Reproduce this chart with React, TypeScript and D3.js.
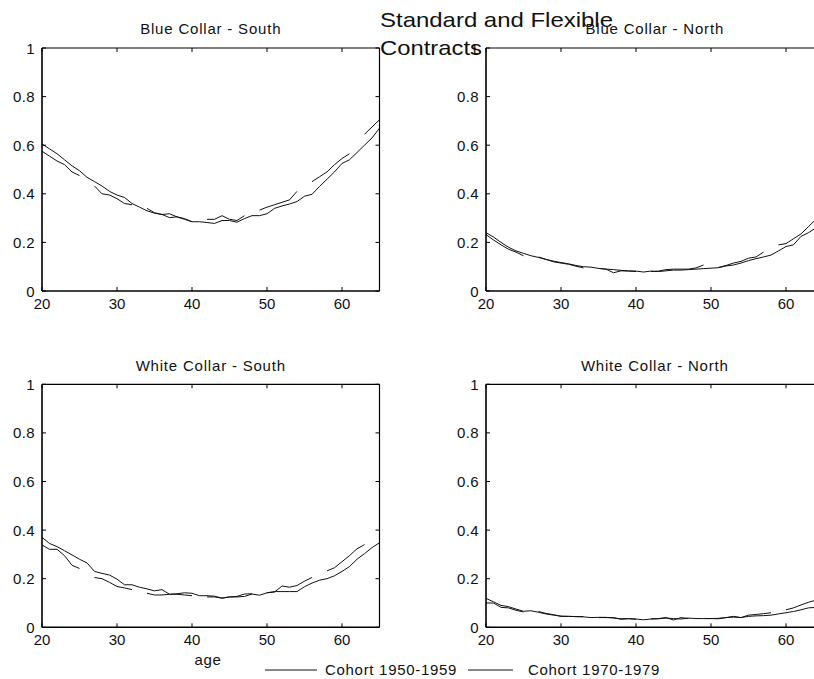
import React from "react";
import * as d3 from "d3";

const ages = [20,21,22,23,24,25,26,27,28,29,30,31,32,33,34,35,36,37,38,39,40,41,42,43,44,45,46,47,48,49,50,51,52,53,54,55,56,57,58,59,60,61,62,63,64,65];

const xTicks = [20, 30, 40, 50, 60];
const yTicks = [0, 0.2, 0.4, 0.6, 0.8, 1];
const yTickLabels = ["0", "0.2", "0.4", "0.6", "0.8", "1"];

const seriesNames = ["Cohort 1950-1959", "Cohort 1970-1979"];
const panelTitles = ["Blue Collar - South", "Blue Collar - North", "White Collar - South", "White Collar - North"];
const mainTitle = ["Standard and Flexible", "Contracts"];
const xLabel = "age";

type V = number | null;

const bcSouth1950: V[] = [0.605,0.585,0.565,0.54,0.515,0.495,0.468,0.45,0.432,0.41,
  0.395,0.385,0.36,0.345,0.33,0.32,0.315,0.318,0.305,0.298,
  0.285,0.285,0.282,0.278,0.29,0.29,0.283,0.298,0.31,0.31,
  0.318,0.34,0.35,0.358,0.368,0.39,0.398,0.43,0.46,0.49,
  0.525,0.54,0.57,0.6,0.63,0.67];
const bcSouth1970: V[] = [0.575,0.555,0.535,0.52,0.49,0.475,null,0.432,0.4,0.395,
  0.38,0.36,0.355,null,0.34,0.322,0.315,0.302,0.305,0.295,
  0.285,null,0.295,0.295,0.31,0.295,0.29,0.31,null,0.333,
  0.345,0.355,0.365,0.375,0.41,null,0.45,0.47,0.49,0.52,
  0.545,0.565,null,0.645,0.675,0.705];

const bcNorth1950: V[] = [0.24,0.222,0.2,0.18,0.165,0.155,0.145,0.138,0.13,0.123,
  0.117,0.112,0.105,0.1,0.098,0.093,0.09,0.088,0.085,0.083,
  0.082,0.078,0.082,0.08,0.083,0.086,0.086,0.088,0.09,0.092,
  0.094,0.096,0.103,0.107,0.115,0.125,0.133,0.14,0.148,0.165,
  0.183,0.19,0.225,0.24,0.26,0.28];
const bcNorth1970: V[] = [0.232,0.21,0.19,0.172,0.16,0.145,null,0.14,0.13,0.12,
  0.115,0.11,0.102,0.095,null,0.093,0.09,0.075,0.083,0.082,
  0.08,null,0.08,0.082,0.088,0.09,0.09,0.09,0.095,0.107,
  null,0.097,0.105,0.115,0.122,0.135,0.14,0.16,null,0.19,
  0.195,0.215,0.235,0.265,0.295,0.32];

const wcSouth1950: V[] = [0.37,0.345,0.332,0.315,0.298,0.28,0.265,0.23,0.222,0.215,
  0.198,0.175,0.175,0.165,0.158,0.15,0.155,0.136,0.138,0.142,
  0.14,0.13,0.13,0.128,0.12,0.125,0.125,0.127,0.137,0.132,
  0.142,0.147,0.147,0.147,0.147,0.167,0.182,0.194,0.2,0.212,
  0.23,0.25,0.28,0.303,0.328,0.348];
const wcSouth1970: V[] = [0.339,0.321,0.321,0.295,0.255,0.242,null,0.205,0.2,0.185,
  0.168,0.162,0.155,null,0.14,0.133,0.133,0.136,0.136,0.133,
  0.13,null,0.125,0.125,0.12,0.125,0.127,0.137,0.138,null,
  0.142,0.145,0.17,0.165,0.172,0.19,0.205,null,0.232,0.245,
  0.27,0.295,0.323,0.34,null,0.41];

const wcNorth1950: V[] = [0.119,0.105,0.09,0.085,0.075,0.066,0.068,0.062,0.055,0.05,
  0.046,0.045,0.044,0.043,0.04,0.041,0.041,0.038,0.035,0.036,
  0.034,0.031,0.034,0.035,0.038,0.036,0.034,0.038,0.036,0.036,
  0.036,0.035,0.04,0.042,0.04,0.045,0.047,0.048,0.05,0.055,
  0.06,0.065,0.072,0.08,0.082,0.085];
const wcNorth1970: V[] = [0.1,0.1,0.082,0.08,0.07,0.063,null,0.065,0.057,0.052,
  0.045,0.045,0.044,0.044,null,0.04,0.04,0.04,0.033,0.035,
  0.033,null,0.035,0.036,0.04,0.03,0.04,0.036,null,0.036,
  0.036,0.037,0.04,0.045,0.04,0.05,0.053,0.056,0.06,null,
  0.072,0.08,0.092,0.103,0.112,0.12];

const panelSeries: V[][][] = [
  [bcSouth1950, bcSouth1970],
  [bcNorth1950, bcNorth1970],
  [wcSouth1950, wcSouth1970],
  [wcNorth1950, wcNorth1970],
];

// layout
const W = 814, H = 679;
const colX = [[42, 379.5], [486, 823.5]];
const rowY = [[291, 48], [627.3, 384.3]];
const FONT = "'Liberation Sans', Arial, Helvetica, sans-serif";

function Panel({ idx }: { idx: number }) {
  const col = idx % 2, row = Math.floor(idx / 2);
  const x = d3.scaleLinear().domain([20, 65]).range(colX[col]);
  const y = d3.scaleLinear().domain([0, 1]).range(rowY[row]);
  const [x0, x1] = x.range();
  const [y0, y1] = y.range();
  const line = d3.line<[number, V]>()
    .defined((d) => d[1] !== null)
    .x((d) => x(d[0]))
    .y((d) => y(d[1] as number));
  const clipId = `clip${idx}`;
  const tl = 4;
  return (
    <g>
      <defs>
        <clipPath id={clipId}>
          <rect x={x0} y={y1} width={x1 - x0} height={y0 - y1} />
        </clipPath>
      </defs>
      <text x={(x0 + x1) / 2} y={row === 0 ? 34 : 371} textAnchor="middle" fontSize={15} letterSpacing={0.8} fill="#111">
        {panelTitles[idx]}
      </text>
      <g clipPath={`url(#${clipId})`}>
        {panelSeries[idx].map((s, i) => (
          <path key={i} d={line(ages.map((a, k) => [a, s[k]] as [number, V])) || ""} fill="none" stroke="#111" strokeWidth={1} />
        ))}
      </g>
      {/* box */}
      <line x1={x0} x2={x1} y1={y1} y2={y1} stroke="#000" strokeWidth={1.2} />
      <line x1={x1} x2={x1} y1={y1} y2={y0} stroke="#000" strokeWidth={1.2} />
      <line x1={x0} x2={x1} y1={y0} y2={y0} stroke="#000" strokeWidth={1.6} />
      <line x1={x0} x2={x0} y1={y1} y2={y0} stroke="#000" strokeWidth={1.6} />
      {xTicks.map((t) => (
        <g key={"x" + t}>
          <line x1={x(t)} x2={x(t)} y1={y0} y2={y0 - tl} stroke="#000" strokeWidth={1} />
          <line x1={x(t)} x2={x(t)} y1={y1} y2={y1 + tl} stroke="#000" strokeWidth={1} />
          <text x={x(t)} y={y0 + 17.5} textAnchor="middle" fontSize={15} fill="#111">{String(t)}</text>
        </g>
      ))}
      {yTicks.map((t, i) => (
        <g key={"y" + t}>
          <line x1={x0} x2={x0 + tl} y1={y(t)} y2={y(t)} stroke="#000" strokeWidth={1} />
          <line x1={x1} x2={x1 - tl} y1={y(t)} y2={y(t)} stroke="#000" strokeWidth={1} />
          <text x={x0 - 7} y={y(t) + 5.5} textAnchor="end" fontSize={15} letterSpacing={0.4} fill="#111">{yTickLabels[i]}</text>
        </g>
      ))}
    </g>
  );
}

export default function App() {
  const legendY = 670;
  const legendItems = [
    { x1: 265, x2: 317, tx: 325 },
    { x1: 468, x2: 513, tx: 528 },
  ];
  return (
    <svg width={W} height={H} style={{ position: "absolute", left: 0, top: 0, background: "#fff" }} fontFamily={FONT}>
      <rect x={0} y={0} width={W} height={H} fill="#fff" />
      {[0, 1, 2, 3].map((i) => <Panel key={i} idx={i} />)}
      <text x={380} y={27} fontSize={21} fill="#111" textLength={233} lengthAdjust="spacingAndGlyphs">{mainTitle[0]}</text>
      <text x={380} y={55} fontSize={21} fill="#111" textLength={102} lengthAdjust="spacingAndGlyphs">{mainTitle[1]}</text>
      <text x={208} y={665} textAnchor="middle" fontSize={15} letterSpacing={0.6} fill="#111">{xLabel}</text>
      {legendItems.map((l, i) => (
        <g key={i}>
          <line x1={l.x1} x2={l.x2} y1={legendY} y2={legendY} stroke="#111" strokeWidth={1} />
          <text x={l.tx} y={legendY + 5} fontSize={15} letterSpacing={0.7} fill="#111">{seriesNames[i]}</text>
        </g>
      ))}
    </svg>
  );
}
